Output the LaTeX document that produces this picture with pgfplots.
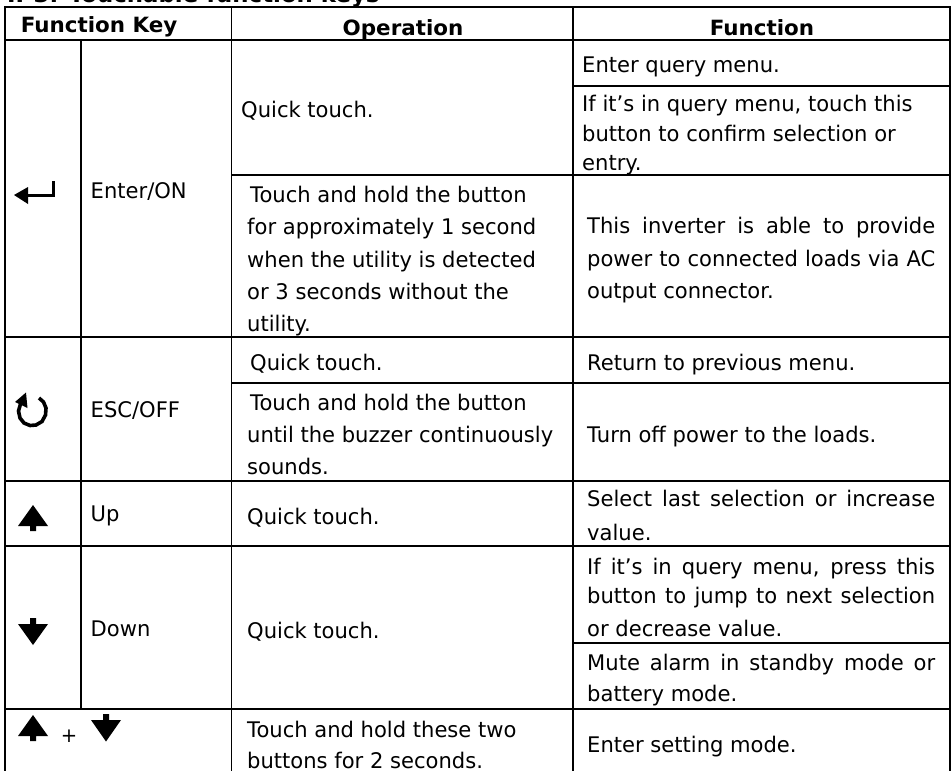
\documentclass[border=0pt]{standalone}
\usepackage{pgfplots}
\pgfplotsset{compat=1.18}
\usepackage{fontspec}
\setmainfont{DejaVu Sans}[FakeStretch=0.98]
\newfontfamily\hd{DejaVu Sans}[FakeStretch=1.02]
\newcommand{\T}[3]{\node[anchor=base west,inner sep=0pt,font=\fontsize{21.5}{24}\selectfont] at (axis cs:#1,#2) {#3};}
\newcommand{\J}[4]{\node[anchor=base west,inner sep=0pt,font=\fontsize{21.5}{24}\selectfont] at (axis cs:#1,#2) {\makebox[#3pt][s]{#4}};}
\newcommand{\B}[3]{\node[anchor=base,inner sep=0pt,font=\fontsize{21}{24}\selectfont\hd\bfseries] at (axis cs:#1,#2) {#3};}
\newcommand{\G}[1]{\addplot[black,line width=1.9pt,forget plot] coordinates {#1};}
\begin{document}
\begin{tikzpicture}[x=1pt,y=1pt]
\useasboundingbox (0,0) rectangle (952pt,771pt);
\clip (0,0) rectangle (952pt,771pt);
\begin{axis}[at={(0,0)},anchor=south west,scale only axis,width=952pt,height=771pt,
 xmin=0,xmax=952,ymin=0,ymax=771,y dir=reverse,hide axis,clip=false]
% grid lines
\G{(5,7)(950,7)}
\G{(5,40)(950,40)}
\G{(573,86)(950,86)}
\G{(231.5,175)(950,175)}
\G{(5,337)(950,337)}
\G{(231.5,383)(950,383)}
\G{(5,481)(950,481)}
\G{(5,546)(950,546)}
\G{(573,643)(950,643)}
\G{(5,709)(950,709)}
\G{(5,6)(5,771)}
\G{(81,40)(81,709)}
\G{(231.5,6)(231.5,771)}
\G{(573,6)(573,771)}
\G{(950,6)(950,771)}
% icons
\addplot[black,line width=3pt,forget plot] coordinates {(24,195.5)(53,195.5)(53,181)};
\addplot[black,fill=black,draw=none,forget plot] coordinates {(14,195)(28,187)(28,204)(14,195)};
\addplot[black,line width=3.6pt,forget plot] coordinates {(25,399.5)(20.5,404)(18.5,411)(20,418)(24,423)(30,425.5)(36,425)(42,421.5)(45.5,415)(46,408)(43.5,402)(39,398)};
\addplot[black,fill=black,draw=none,forget plot] coordinates {(26,392.5)(27.5,408)(15,402)(26,392.5)};
\addplot[black,fill=black,draw=none,forget plot] coordinates {(33,505)(48,526)(36,526)(36,531)(30,531)(30,526)(18,526)(33,505)};
\addplot[black,fill=black,draw=none,forget plot] coordinates {(30,618)(36,618)(36,624)(48,624)(33,645)(18,624)(30,624)(30,618)};
\addplot[black,fill=black,draw=none,forget plot] coordinates {(33,715)(48,736)(36,736)(36,741)(30,741)(30,736)(18,736)(33,715)};
\addplot[black,fill=black,draw=none,forget plot] coordinates {(103,714)(109,714)(109,720)(121,720)(106,741.5)(91,720)(103,720)(103,714)};
\node[anchor=base,inner sep=0pt,font=\fontsize{20}{22}\selectfont] at (axis cs:69,742) {+};
% title
\node[anchor=base west,inner sep=0pt,font=\fontsize{22.4}{24}\selectfont\hd\bfseries] at (axis cs:7,2.5) {II-3. Touchable function keys};
% headers
\B{99}{32}{Function Key}
\B{403}{35}{Operation}
\B{762}{35}{Function}
% key names
\T{90.5}{198}{Enter/ON}
\T{90.5}{417.5}{ESC/OFF}
\T{90.5}{521.5}{Up}
\T{90.5}{636.5}{Down}
% operations
\T{241}{117}{Quick touch.}
\T{250}{202}{Touch and hold the button}
\T{247}{234.5}{for approximately 1 second}
\T{247}{267}{when the utility is detected}
\T{247}{299}{or 3 seconds without the}
\T{247}{331}{utility.}
\T{250}{370.5}{Quick touch.}
\T{250}{410.5}{Touch and hold the button}
\T{247}{442}{until the buzzer continuously}
\T{247}{474}{sounds.}
\T{247}{524}{Quick touch.}
\T{247}{638}{Quick touch.}
\T{247}{737}{Touch and hold these two}
\T{247}{768}{buttons for 2 seconds.}
% functions
\T{582}{72.5}{Enter query menu.}
\T{582}{111.5}{If it’s in query menu, touch this}
\T{582}{141}{button to confirm selection or}
\T{582}{170}{entry.}
\J{587}{233}{348}{This inverter is able to provide}
\J{587}{266}{348}{power to connected loads via AC}
\T{587}{298}{output connector.}
\T{587}{370.5}{Return to previous menu.}
\T{587}{442.5}{Turn off power to the loads.}
\J{587}{506}{348}{Select last selection or increase}
\T{587}{540}{value.}
\J{587}{574}{348}{If it’s in query menu, press this}
\J{587}{603}{348}{button to jump to next selection}
\T{587}{636.5}{or decrease value.}
\J{587}{670}{348}{Mute alarm in standby mode or}
\T{587}{701.5}{battery mode.}
\T{587}{752.5}{Enter setting mode.}
\end{axis}
\end{tikzpicture}
\end{document}
